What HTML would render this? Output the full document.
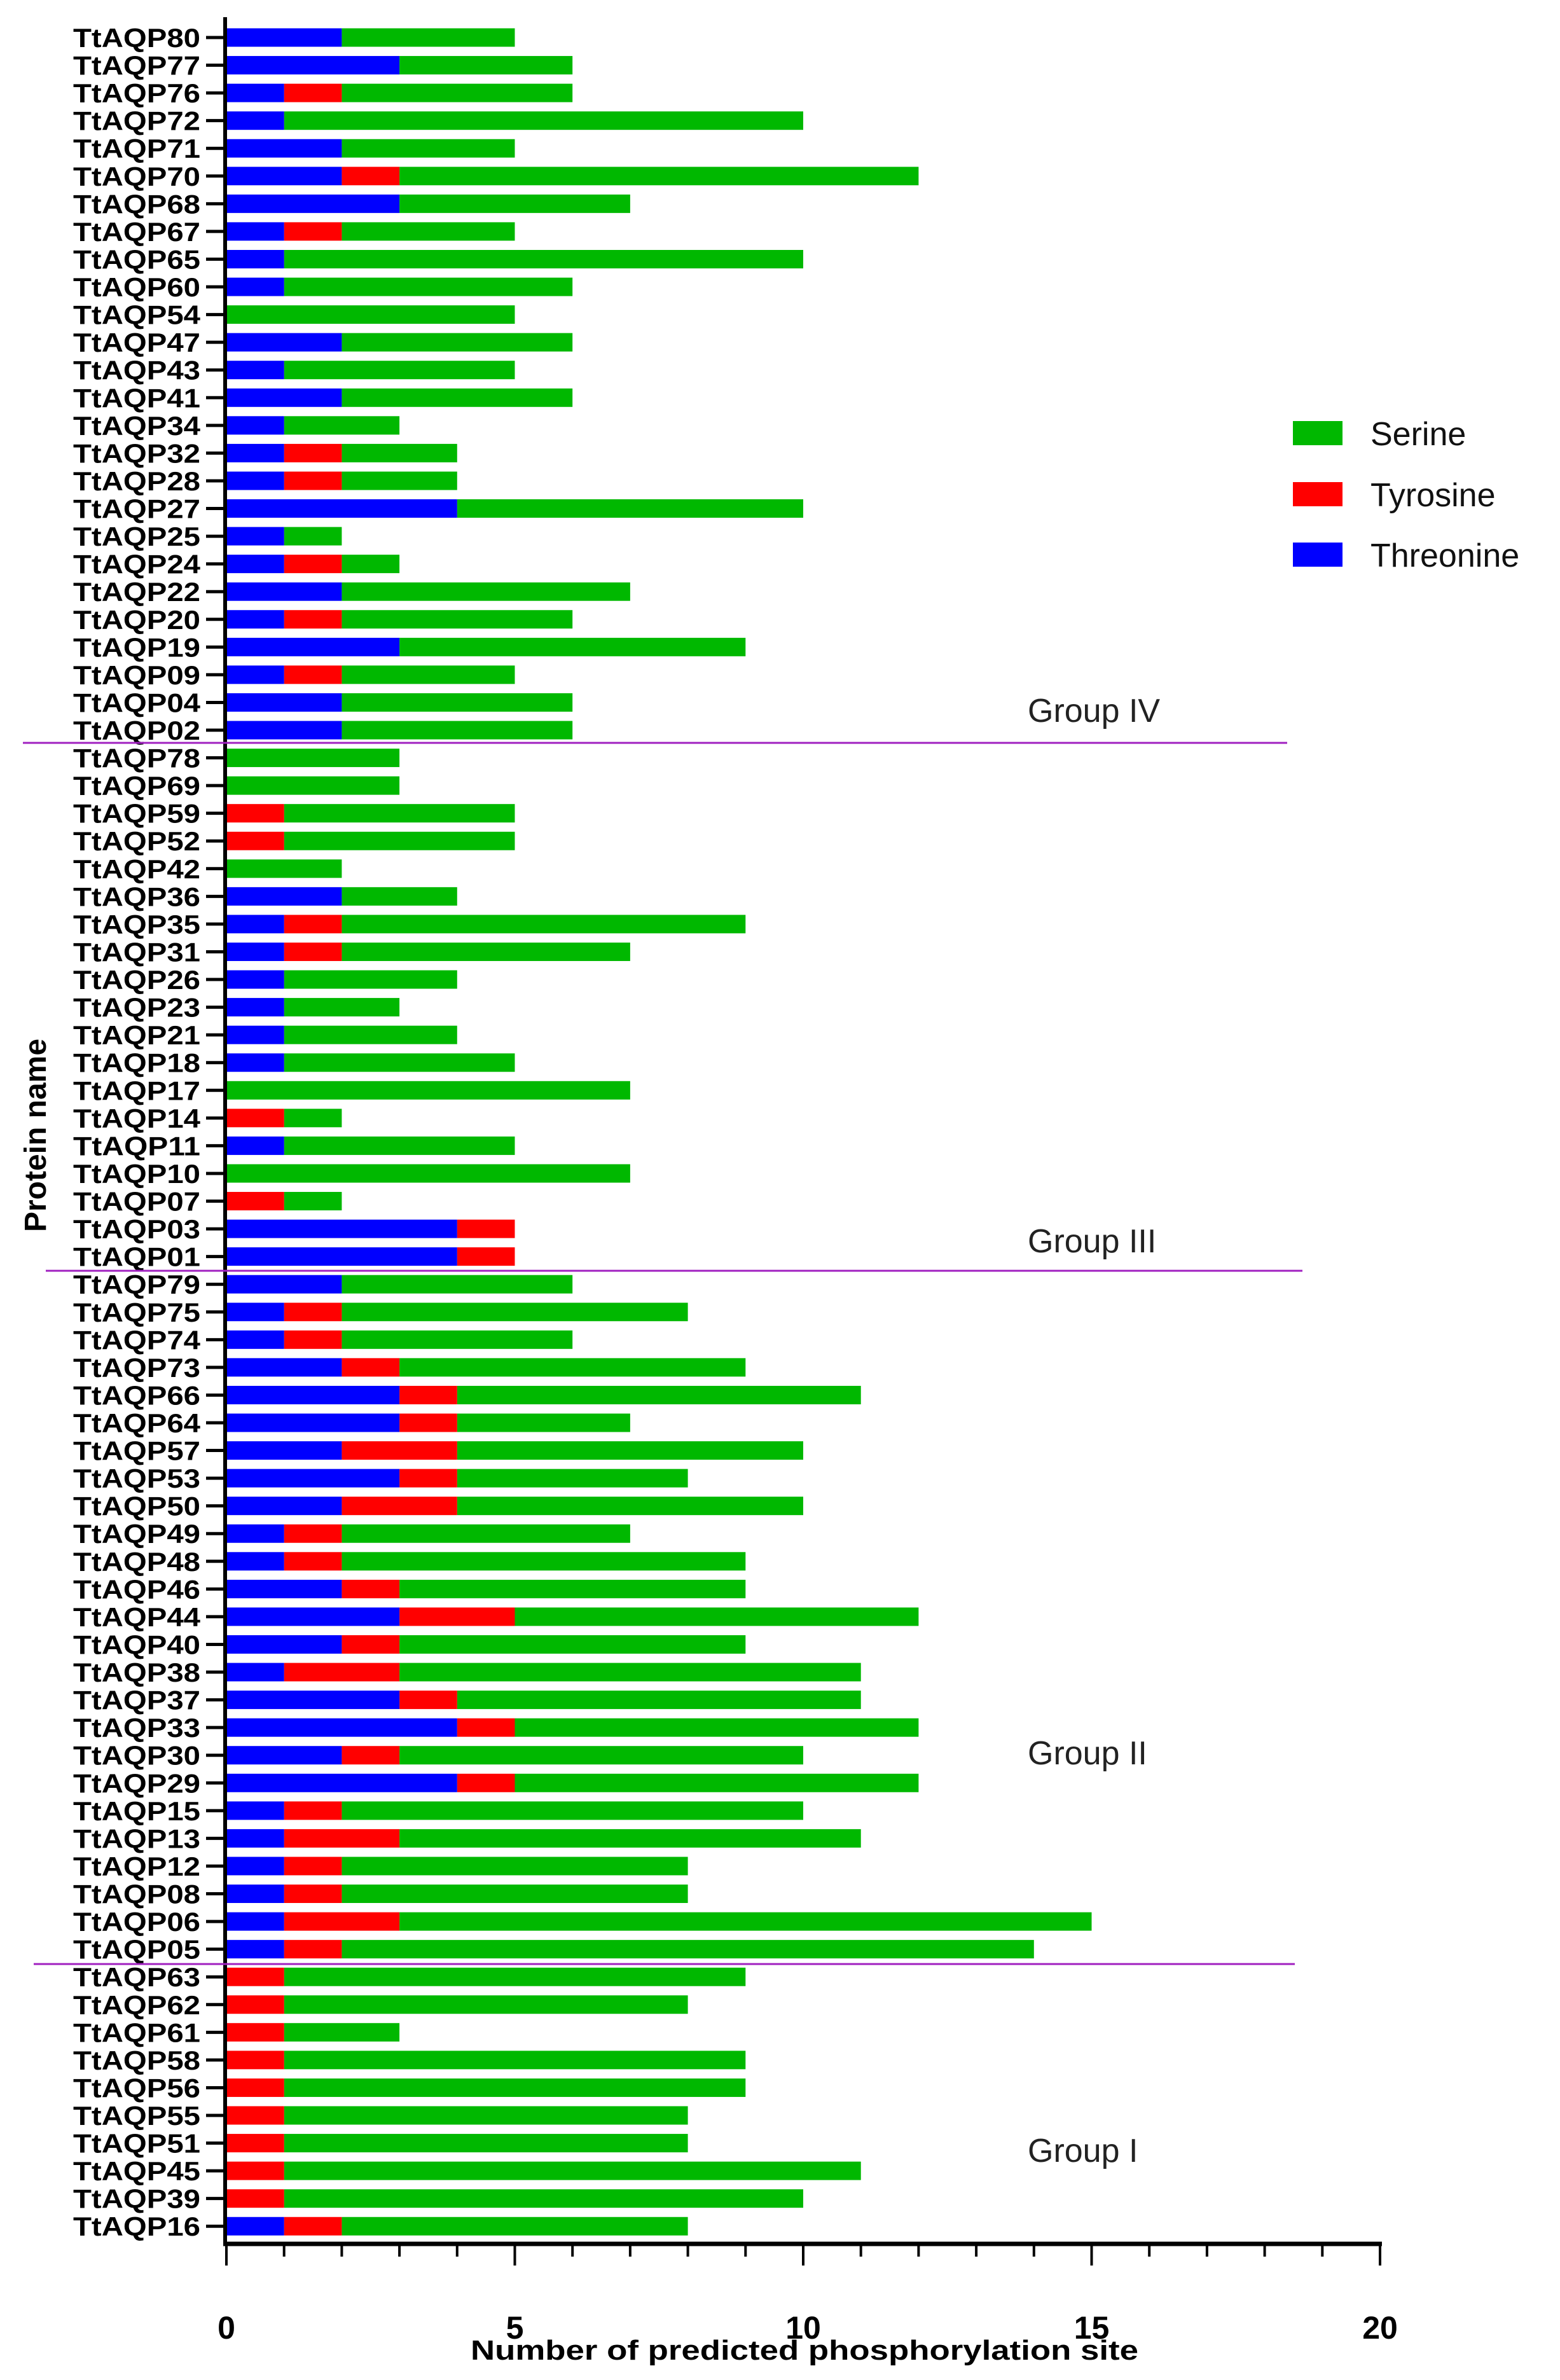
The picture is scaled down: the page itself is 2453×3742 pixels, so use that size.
<!DOCTYPE html>
<html><head><meta charset="utf-8"><style>html,body{margin:0;padding:0;background:#fff}svg{display:block}</style></head>
<body>
<svg id="s" xmlns="http://www.w3.org/2000/svg" width="2453" height="3742" viewBox="0 0 2453 3742">
<rect width="2453" height="3742" fill="#fff"/>
</svg>
<script>
const d=[["80",2,0,5],["77",3,0,6],["76",1,1,6],["72",1,0,10],["71",2,0,5],["70",2,1,12],["68",3,0,7],["67",1,1,5],["65",1,0,10],["60",1,0,6],["54",0,0,5],["47",2,0,6],["43",1,0,5],["41",2,0,6],["34",1,0,3],["32",1,1,4],["28",1,1,4],["27",4,0,10],["25",1,0,2],["24",1,1,3],["22",2,0,7],["20",1,1,6],["19",3,0,9],["09",1,1,5],["04",2,0,6],["02",2,0,6],
["78",0,0,3],["69",0,0,3],["59",0,1,5],["52",0,1,5],["42",0,0,2],["36",2,0,4],["35",1,1,9],["31",1,1,7],["26",1,0,4],["23",1,0,3],["21",1,0,4],["18",1,0,5],["17",0,0,7],["14",0,1,2],["11",1,0,5],["10",0,0,7],["07",0,1,2],["03",4,1,5],["01",4,1,5],
["79",2,0,6],["75",1,1,8],["74",1,1,6],["73",2,1,9],["66",3,1,11],["64",3,1,7],["57",2,2,10],["53",3,1,8],["50",2,2,10],["49",1,1,7],["48",1,1,9],["46",2,1,9],["44",3,2,12],["40",2,1,9],["38",1,2,11],["37",3,1,11],["33",4,1,12],["30",2,1,10],["29",4,1,12],["15",1,1,10],["13",1,2,11],["12",1,1,8],["08",1,1,8],["06",1,2,15],["05",1,1,14],
["63",0,1,9],["62",0,1,8],["61",0,1,3],["58",0,1,9],["56",0,1,9],["55",0,1,8],["51",0,1,8],["45",0,1,11],["39",0,1,10],["16",1,1,8]];
const X0=356,U=90.7,Y0=59,S=43.56,H=29;
let o="";
const G="#00b800",R="#ff0000",B="#0000ff";
d.forEach((r,i)=>{
 const y=Y0+i*S, t=y-H/2;
 const [n,tb,ty,tot]=r;
 if(tot>tb+ty) o+=`<rect x="${X0+(tb+ty)*U}" y="${t}" width="${(tot-tb-ty)*U}" height="${H}" fill="${G}"/>`;
 if(ty) o+=`<rect x="${X0+tb*U}" y="${t}" width="${ty*U}" height="${H}" fill="${R}"/>`;
 if(tb) o+=`<rect x="${X0}" y="${t}" width="${tb*U}" height="${H}" fill="${B}"/>`;
 o+=`<line x1="324" x2="352" y1="${y}" y2="${y}" stroke="#000" stroke-width="5"/>`;
 o+=`<text x="115" y="${y+15}" textLength="200" lengthAdjust="spacingAndGlyphs" font-family="Liberation Sans, sans-serif" font-weight="bold" font-size="42">TtAQP${n}</text>`;
});
o+=`<line x1="354" y1="27" x2="354" y2="3531" stroke="#000" stroke-width="6"/>`;
o+=`<line x1="351" y1="3528" x2="${X0+20*U+3}" y2="3528" stroke="#000" stroke-width="7"/>`;
for(let k=0;k<=20;k++){const x=X0+k*U;const L=k%5==0?3562:3548;o+=`<line x1="${x}" x2="${x}" y1="3528" y2="${L}" stroke="#000" stroke-width="4"/>`;
 if(k%5==0) o+=`<text x="${x}" y="3677" text-anchor="middle" font-family="Liberation Sans, sans-serif" font-weight="bold" font-size="50">${k}</text>`;}
o+=`<text x="1265" y="3710" text-anchor="middle" textLength="1050" lengthAdjust="spacingAndGlyphs" font-family="Liberation Sans, sans-serif" font-weight="bold" font-size="44">Number of predicted phosphorylation site</text>`;
o+=`<text transform="translate(72,1785) rotate(-90)" text-anchor="middle" font-family="Liberation Sans, sans-serif" font-weight="bold" font-size="48">Protein name</text>`;
const P="#a020c0";
o+=`<line x1="36" x2="2024" y1="1168" y2="1168" stroke="${P}" stroke-width="3"/>`;
o+=`<line x1="72" x2="2048" y1="1998" y2="1998" stroke="${P}" stroke-width="3"/>`;
o+=`<line x1="53" x2="2036" y1="3088" y2="3088" stroke="${P}" stroke-width="3"/>`;
[["Group IV",1121],["Group III",1955],["Group II",2760],["Group I",3385]].forEach(g=>{
 o+=`<text x="1616" y="${g[1]+14}" font-family="Liberation Sans, sans-serif" font-size="52" fill="#222">${g[0]}</text>`;});
[[G,"Serine",662],[R,"Tyrosine",758],[B,"Threonine",853]].forEach(l=>{
 o+=`<rect x="2033" y="${l[2]}" width="78" height="38" fill="${l[0]}"/>`;
 o+=`<text x="2155" y="${l[2]+38}" font-family="Liberation Sans, sans-serif" font-size="52" fill="#111">${l[1]}</text>`;});
document.getElementById("s").insertAdjacentHTML("beforeend",o);
</script>
</body></html>
